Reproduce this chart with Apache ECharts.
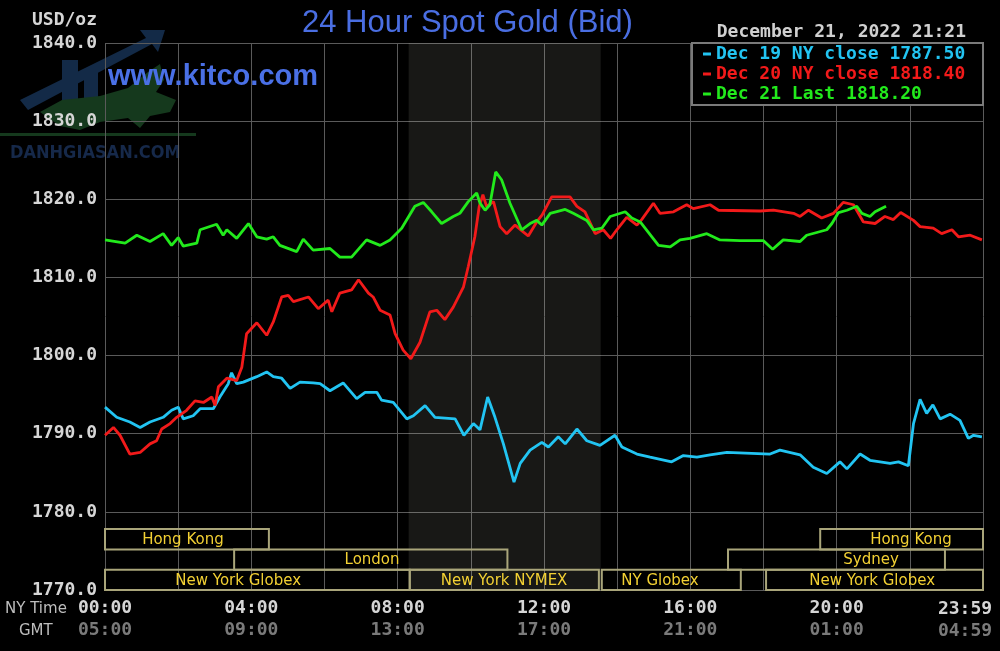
<!DOCTYPE html>
<html><head><meta charset="utf-8">
<script src="https://cdn.jsdelivr.net/npm/echarts@6/dist/echarts.min.js"></script>
<style>html,body{margin:0;padding:0;background:#000}#c{width:1000px;height:651px}</style>
</head><body><div id="c"></div>
<script>
// ---- data (x = NY time in hours, y = USD/oz) ----
const dec19Points = [[0,1793.4],[0.32,1792.1],[0.68,1791.5],[0.96,1790.8],[1.23,1791.5],[1.59,1792.1],[1.82,1793.0],[2.00,1793.4],[2.14,1791.9],[2.41,1792.3],[2.60,1793.2],[2.96,1793.2],[3.14,1794.7],[3.37,1796.4],[3.46,1797.8],[3.60,1796.4],[3.78,1796.6],[4.15,1797.3],[4.42,1797.9],[4.60,1797.3],[4.83,1797.1],[5.06,1795.8],[5.33,1796.6],[5.69,1796.5],[5.88,1796.4],[6.15,1795.5],[6.51,1796.5],[6.88,1794.5],[7.11,1795.3],[7.43,1795.3],[7.56,1794.3],[7.88,1794.0],[8.25,1791.9],[8.43,1792.3],[8.75,1793.6],[9.02,1792.1],[9.57,1791.9],[9.81,1789.8],[10.07,1791.3],[10.25,1790.5],[10.46,1794.7],[10.66,1792.1],[10.89,1788.7],[11.18,1783.8],[11.35,1786.2],[11.62,1787.9],[11.94,1788.9],[12.12,1788.3],[12.39,1789.6],[12.58,1788.7],[12.90,1790.6],[13.17,1789.1],[13.53,1788.5],[13.94,1789.8],[14.13,1788.3],[14.54,1787.4],[14.90,1787.0],[15.49,1786.4],[15.81,1787.2],[16.18,1787.0],[16.54,1787.3],[17.00,1787.6],[18.18,1787.4],[18.45,1787.9],[19.00,1787.3],[19.36,1785.7],[19.73,1784.9],[20.09,1786.4],[20.28,1785.5],[20.64,1787.4],[20.91,1786.6],[21.46,1786.2],[21.69,1786.4],[21.96,1785.9],[22.10,1791.3],[22.28,1794.4],[22.46,1792.6],[22.63,1793.7],[22.83,1791.9],[23.10,1792.5],[23.37,1791.7],[23.60,1789.4],[23.74,1789.8],[23.97,1789.6]];
const dec20Points = [[0,1789.8],[0.23,1790.8],[0.41,1789.8],[0.68,1787.4],[0.96,1787.6],[1.23,1788.7],[1.41,1789.1],[1.55,1790.6],[1.78,1791.3],[1.96,1792.1],[2.23,1793.0],[2.46,1794.2],[2.69,1794.0],[2.92,1794.7],[3.01,1793.6],[3.10,1796.0],[3.33,1797.1],[3.60,1796.8],[3.74,1798.5],[3.87,1802.8],[4.15,1804.2],[4.42,1802.6],[4.60,1804.3],[4.83,1807.5],[5.01,1807.7],[5.15,1806.9],[5.56,1807.5],[5.83,1806.0],[6.10,1807.1],[6.20,1805.6],[6.42,1808.0],[6.74,1808.4],[6.93,1809.7],[7.20,1808.0],[7.33,1807.5],[7.52,1805.8],[7.79,1805.2],[7.93,1802.8],[8.15,1800.7],[8.36,1799.6],[8.61,1801.7],[8.88,1805.6],[9.07,1805.8],[9.29,1804.6],[9.52,1806.2],[9.80,1808.8],[9.93,1811.4],[10.11,1815.2],[10.23,1819.1],[10.33,1820.6],[10.43,1819.1],[10.62,1819.7],[10.80,1816.5],[10.98,1815.6],[11.21,1816.7],[11.44,1815.8],[11.57,1815.3],[11.80,1817.1],[11.95,1818.0],[12.21,1820.3],[12.71,1820.3],[12.90,1819.1],[13.12,1818.4],[13.40,1815.6],[13.62,1816.1],[13.82,1815.0],[13.99,1816.1],[14.26,1817.7],[14.54,1816.7],[14.67,1817.4],[14.99,1819.5],[15.17,1818.2],[15.54,1818.4],[15.90,1819.3],[16.08,1818.8],[16.54,1819.3],[16.77,1818.6],[17.91,1818.5],[18.27,1818.6],[18.82,1818.2],[19.00,1817.8],[19.23,1818.6],[19.59,1817.6],[19.91,1818.2],[20.18,1819.6],[20.46,1819.3],[20.73,1817.1],[21.05,1816.9],[21.32,1817.8],[21.55,1817.4],[21.75,1818.3],[22.10,1817.3],[22.28,1816.5],[22.64,1816.3],[22.87,1815.6],[23.15,1816.1],[23.33,1815.2],[23.65,1815.4],[23.97,1814.8]];
const dec21Points = [[0,1814.8],[0.55,1814.4],[0.87,1815.4],[1.23,1814.6],[1.59,1815.6],[1.82,1814.1],[2.00,1815.1],[2.14,1814.0],[2.51,1814.4],[2.60,1816.1],[3.05,1816.8],[3.23,1815.4],[3.33,1816.1],[3.60,1815.0],[3.92,1816.9],[4.15,1815.2],[4.42,1814.9],[4.60,1815.2],[4.78,1814.1],[5.24,1813.3],[5.42,1814.9],[5.69,1813.5],[6.15,1813.7],[6.42,1812.6],[6.74,1812.6],[7.15,1814.8],[7.52,1814.1],[7.79,1814.8],[8.11,1816.3],[8.47,1819.1],[8.70,1819.6],[8.93,1818.4],[9.20,1816.9],[9.52,1817.8],[9.70,1818.2],[9.93,1819.7],[10.16,1820.8],[10.25,1819.5],[10.39,1818.6],[10.52,1819.3],[10.68,1823.5],[10.84,1822.5],[11.07,1819.5],[11.39,1816.1],[11.62,1816.9],[11.80,1817.3],[11.94,1816.7],[12.17,1818.2],[12.58,1818.7],[12.80,1818.2],[13.17,1817.3],[13.35,1816.1],[13.58,1816.3],[13.81,1817.8],[14.22,1818.4],[14.40,1817.6],[14.63,1817.1],[15.13,1814.1],[15.45,1813.9],[15.72,1814.8],[15.99,1815.0],[16.45,1815.6],[16.81,1814.8],[17.36,1814.7],[18.00,1814.7],[18.25,1813.6],[18.54,1814.8],[19.00,1814.6],[19.18,1815.4],[19.73,1816.1],[19.87,1816.9],[20.05,1818.3],[20.28,1818.6],[20.55,1819.1],[20.69,1818.2],[20.91,1817.8],[21.05,1818.4],[21.35,1819.1]];
const seriesNames = ['Dec 19 NY close 1787.50', 'Dec 20 NY close 1818.40', 'Dec 21 Last 1818.20'];
const seriesColors = ['#22c4f2', '#f21a1a', '#22ea1c'];
// trading sessions: [start hour, end hour, row (0 top .. 2 bottom), label centre hour]
const sessionNames = ['Hong Kong', 'Hong Kong', 'London', 'Sydney', 'New York Globex', 'New York NYMEX', 'NY Globex', 'New York Globex'];
const sessionSpans = [[0,4.48,0,2.13],[19.55,24,0,22.03],[3.53,11.0,1,7.30],[17.03,22.96,1,20.94],[0,8.33,2,3.64],[8.33,13.5,2,10.91],[13.58,17.38,2,15.17],[18.07,24,2,20.97]];
const nymexShade = [8.3, 13.55];
const yTicks = {min:1770, max:1840, step:10};
const nyLastLabel = '23:59', gmtLastLabel = '04:59';
const titleText = '24 Hour Spot Gold (Bid)';
const dateText = 'December 21, 2022 21:21';

const mono = "'DejaVu Sans Mono', 'Liberation Mono', monospace";
const pad = n => (n < 10 ? '0' : '') + n;
const chart = echarts.init(document.getElementById('c'));

const lineSeries = [dec19Points, dec20Points, dec21Points].map((pts, i) => ({
  name: seriesNames[i], type: 'line', data: pts, symbol: 'none', z: 3,
  lineStyle: {color: seriesColors[i], width: 2.8}, itemStyle: {color: seriesColors[i]},
  markArea: i === 0 ? {silent: true, itemStyle: {color: 'rgba(255,255,235,0.095)'},
    data: [[{xAxis: nymexShade[0]}, {xAxis: nymexShade[1]}]]} : undefined
}));

const sessionSeries = {
  type: 'custom', silent: true, z: 4, clip: false,
  encode: {x: [0, 1, 3], y: 2},
  data: sessionSpans,
  renderItem: (params, api) => {
    const s = api.value(0), e = api.value(1), row = api.value(2), lab = api.value(3);
    const p1 = api.coord([s, yTicks.min]), p2 = api.coord([e, yTicks.min]);
    const rowH = 20.3;
    const y1 = p1[1] - (3 - row) * rowH;
    const lx = api.coord([lab, yTicks.min])[0];
    return {type: 'group', children: [
      {type: 'rect', shape: {x: p1[0], y: y1, width: p2[0] - p1[0], height: rowH},
       style: {fill: 'none', stroke: '#a9a57a', lineWidth: 2}},
      {type: 'text', style: {text: sessionNames[params.dataIndex], x: lx, y: y1 + rowH / 2 + 1,
        align: 'center', verticalAlign: 'middle', fill: '#f2d033',
        font: '15px "DejaVu Sans", sans-serif'}}
    ]};
  }
};

const option = {
  backgroundColor: '#000',
  animation: false,
  title: {text: titleText, left: 302, top: 8, padding: 0,
    textStyle: {color: '#4a6ee2', fontSize: 31, fontWeight: 'normal', fontFamily: "'Liberation Sans', Arial, sans-serif"}},
  legend: {left: 703, top: 44, orient: 'vertical', itemGap: 0, itemWidth: 8, itemHeight: 3, icon: 'rect',
    selectedMode: false, z: 20, padding: 0,
    textStyle: {fontFamily: mono, fontSize: 18, fontWeight: 'bold', lineHeight: 20},
    data: seriesNames.map((n, i) => ({name: n, textStyle: {color: seriesColors[i]}}))},
  grid: {left: 105, right: 17, top: 43, bottom: 61},
  xAxis: {type: 'value', min: 0, max: 24, interval: 2,
    axisLine: {show: false}, axisTick: {show: false},
    splitLine: {show: true, lineStyle: {color: '#5a5a5a', width: 1}},
    axisLabel: {showMaxLabel: false, margin: 7,
      formatter: v => (v % 4 === 0 && v < 24) ? '{a|' + pad(v) + ':00}\n{b|' + pad((v + 5) % 24) + ':00}' : '',
      rich: {a: {color: '#d6d6d6', fontFamily: mono, fontSize: 18, fontWeight: 'bold', lineHeight: 22},
             b: {color: '#7a7a7a', fontFamily: mono, fontSize: 18, fontWeight: 'bold', lineHeight: 22}}}},
  yAxis: {type: 'value', min: yTicks.min, max: yTicks.max, interval: yTicks.step,
    axisLine: {show: false}, axisTick: {show: false},
    splitLine: {show: true, lineStyle: {color: '#5a5a5a', width: 1}},
    axisLabel: {color: '#d6d6d6', fontFamily: mono, fontSize: 18, fontWeight: 'bold', margin: 8,
      formatter: v => v.toFixed(1)}},
  graphic: [
    // watermark logo (behind)
    {type: 'group', z: -5, silent: true, children: [
      {type: 'polygon', shape: {points: [[20,100],[146,38],[140,30],[165,30],[158,52],[152,44],[28,110]]}, style: {fill: '#132a47'}},
      {type: 'rect', shape: {x: 62, y: 60, width: 16, height: 40}, style: {fill: '#132a47'}},
      {type: 'rect', shape: {x: 84, y: 72, width: 14, height: 28}, style: {fill: '#132a47'}},
      {type: 'polygon', shape: {points: [[40,112],[62,100],[100,96],[128,88],[148,72],[160,64],[164,80],[156,92],[176,100],[170,112],[150,116],[140,128],[128,118],[100,122],[80,130],[60,126]]}, style: {fill: '#15391d'}},
      {type: 'rect', shape: {x: 0, y: 133, width: 196, height: 3}, style: {fill: '#15391d'}},
      {type: 'text', style: {text: 'DANHGIASAN.COM', x: 10, y: 153, verticalAlign: 'middle',
        font: 'bold 18px "Liberation Sans Narrow", "DejaVu Sans Condensed", sans-serif', fill: '#16294a'}}
    ]},
    {type: 'text', z: 10, silent: true, style: {text: 'www.kitco.com', x: 108, y: 77, verticalAlign: 'middle',
      font: 'bold 29px "Liberation Sans", Arial, sans-serif', fill: '#4a70e6'}},
    {type: 'text', z: 10, silent: true, style: {text: 'USD/oz', x: 97, y: 20, align: 'right', verticalAlign: 'middle',
      font: 'bold 18px ' + mono, fill: '#d6d6d6'}},
    {type: 'text', z: 10, silent: true, style: {text: dateText, x: 966, y: 32, align: 'right', verticalAlign: 'middle',
      font: 'bold 18px ' + mono, fill: '#d0d0d0'}},
    {type: 'rect', z: 15, silent: true, shape: {x: 692, y: 43, width: 291, height: 62},
      style: {fill: '#000', stroke: '#7a7a7a', lineWidth: 2}},
    {type: 'text', z: 10, silent: true, style: {text: 'NY Time', x: 5, y: 609, verticalAlign: 'middle',
      font: '15px "DejaVu Sans", sans-serif', fill: '#bdbdbd'}},
    {type: 'text', z: 10, silent: true, style: {text: 'GMT', x: 19, y: 631, verticalAlign: 'middle',
      font: '15px "DejaVu Sans", sans-serif', fill: '#bdbdbd'}},
    {type: 'text', z: 10, silent: true, style: {text: nyLastLabel, x: 965, y: 609, align: 'center', verticalAlign: 'middle',
      font: 'bold 18px ' + mono, fill: '#d6d6d6'}},
    {type: 'text', z: 10, silent: true, style: {text: gmtLastLabel, x: 965, y: 631, align: 'center', verticalAlign: 'middle',
      font: 'bold 18px ' + mono, fill: '#7a7a7a'}}
  ],
  series: [...lineSeries, sessionSeries]
};
chart.setOption(option);
</script>
</body></html>
